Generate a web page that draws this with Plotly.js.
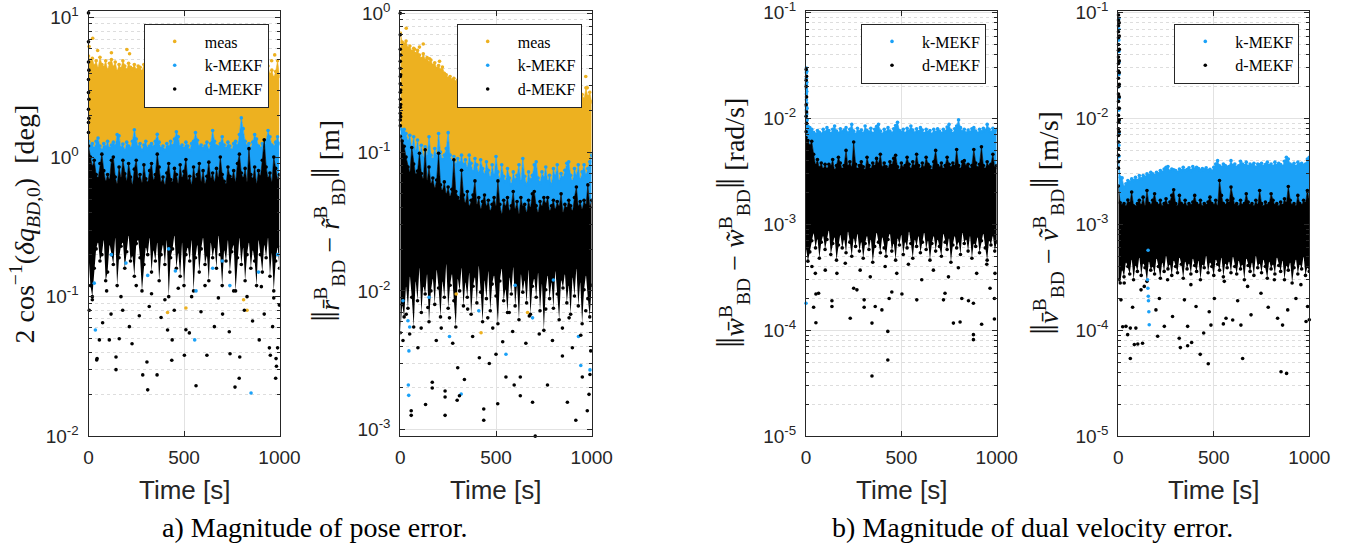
<!DOCTYPE html>
<html><head><meta charset="utf-8">
<script src="https://cdn.plot.ly/plotly-3.0.1.min.js"></script>
<style>html,body{margin:0;padding:0;background:#fff}#chart{width:1354px;height:549px}</style>
</head><body><div id="chart"></div>
<script>
// ---------- shared time grid [s] ----------
const T = [0,10,20,30,40,50,60,70,80,90,100,110,120,130,140,150,160,170,180,190,200,210,220,230,240,250,260,270,280,290,300,310,320,330,340,350,360,370,380,390,400,410,420,430,440,450,460,470,480,490,500,510,520,530,540,550,560,570,580,590,600,610,620,630,640,650,660,670,680,690,700,710,720,730,740,750,760,770,780,790,800,810,820,830,840,850,860,870,880,890,900,910,920,930,940,950,960,970,980,990,1000];

// ---------- panel a1: attitude error [deg] (dense band envelopes) ----------
const p1MeasTop = [5.3,4.8,5.1,4.5,4.9,4.3,5.2,4.6,4.4,4.9, 4.2,4.7,5.0,4.4,4.8,4.1,4.6,4.3,4.9,4.5, 4.2,4.7,4.4,4.3,4.6,4.2,4.5,4.4,4.1,4.6, 4.3,4.5,4.2,4.4,4.6,4.1,4.5,4.3,4.4,4.2, 4.6,4.3,4.1,4.5,4.4,4.2,4.6,4.3,4.5,4.1, 4.4,4.2,4.6,4.3,4.5,4.1,4.4,4.3,4.2,4.5, 4.3,4.1,4.4,4.6,4.2,4.5,4.3,4.1,4.4,4.2, 4.5,4.3,4.6,4.2,4.4,4.1,4.5,4.3,4.7,4.2, 4.4,4.6,4.3,4.5,4.1,4.4,4.2,4.6,4.3,4.5, 4.2,4.4,4.1,4.3,4.5,3.9,4.2,3.7,4.1,4.9, 3.8];
const p1KTop = [1.3,1.2,1.25,1.15,1.3,1.37,1.2,1.12,1.25,1.18, 1.3,1.15,1.22,1.28,1.2,1.45,1.42,1.16,1.24,1.12, 1.28,1.2,1.15,1.3,1.57,1.35,1.18,1.25,1.12,1.22, 1.3,1.15,1.2,1.25,1.18,1.3,1.46,1.28,1.15,1.2, 1.12,1.25,1.18,1.3,1.2,1.35,1.52,1.4,1.18,1.22, 1.15,1.28,1.2,1.12,1.25,1.3,1.5,1.32,1.18,1.22, 1.15,1.2,1.28,1.12,1.25,1.55,1.3,1.2,1.18,1.25, 1.4,1.22,1.15,1.28,1.2,1.12,1.25,1.3,1.2,1.45, 1.91,1.6,1.3,1.2,1.25,1.15,1.28,1.45,1.35,1.2, 1.15,1.25,1.2,1.3,1.55,1.4,1.22,1.18,1.28,1.4, 1.25];
const p1DTop = [1.2,1.0,0.85,0.95,0.75,0.7,0.9,1.05,0.8,0.66, 0.75,0.68,0.95,1.0,0.72,0.63,0.85,0.7,0.95,0.76, 0.66,0.9,0.72,0.62,0.82,0.95,0.69,0.75,0.64,0.88, 0.7,0.65,0.8,0.9,0.67,0.75,1.05,0.85,0.65,0.72, 0.62,0.77,0.9,0.69,0.65,0.83,0.75,0.63,0.88,0.7, 0.79,0.96,0.67,0.73,0.62,0.85,0.69,0.75,0.9,0.65, 0.8,0.63,0.73,0.92,0.69,0.77,0.65,0.83,0.7,1.0, 0.75,0.67,0.63,0.85,0.73,0.69,0.8,0.65,0.9,1.05, 0.77,0.7,0.83,0.65,1.15,0.75,0.69,0.85,0.63,0.8, 0.72,0.95,1.33,0.85,0.7,0.77,0.65,1.0,0.83,0.69, 0.75];
const p1DLow = [0.2,0.12,0.1,0.16,0.22,0.25,0.18,0.2,0.26,0.13, 0.15,0.24,0.2,0.17,0.27,0.12,0.19,0.23,0.25,0.16, 0.21,0.28,0.18,0.2,0.14,0.24,0.26,0.19,0.11,0.17, 0.23,0.2,0.27,0.15,0.22,0.18,0.25,0.13,0.2,0.24, 0.17,0.26,0.1,0.19,0.22,0.28,0.16,0.21,0.14,0.25, 0.12,0.2,0.23,0.18,0.26,0.11,0.19,0.24,0.15,0.22, 0.27,0.17,0.2,0.13,0.25,0.19,0.23,0.16,0.28,0.2, 0.12,0.22,0.18,0.26,0.15,0.21,0.24,0.11,0.19,0.27, 0.17,0.23,0.13,0.2,0.25,0.16,0.22,0.18,0.12,0.26, 0.2,0.15,0.24,0.19,0.27,0.14,0.21,0.11,0.18,0.23, 0.16];
// isolated points
const p1MeasT = [3,22,48,120,201,215,959,975,414,510,812,830];
const p1MeasV = [6.2,7.1,5.8,5.6,5.9,5.5,4.9,5.4,0.077,0.083,0.095,0.08];
const p1KT = [30,36,196,310,455,556,563,650,740,851,890,990,120,420,700];
const p1KV = [0.125,0.0577,0.174,0.142,0.153,0.049,0.11,0.16,0.12,0.0204,0.15,0.2,0.2,0.22,0.18];
const p1DT = [0,0,0,0,0,0,0,0, 2,2,2, 57,43,45,109,144,144,161,228,284,310,306,359,436,438,502,563,510,620,741,767,789,792,894,947,952,982,984,980,990, 4,74,118,179,214,266,318,380,414,449,528,589,659,702,737,816,859,920,964,999, 20,95,170,250,330,400,470,540,610,680,760,830,905,970];
const p1DV = [10.8,6.7,4.8,3.6,2.9,2.2,1.77,1.5, 4.2,2.6,1.9, 0.049,0.0352,0.036,0.049,0.037,0.03,0.05,0.046,0.0275,0.0215,0.034,0.0275,0.035,0.049,0.038,0.023,0.058,0.038,0.039,0.0225,0.026,0.037,0.049,0.043,0.038,0.036,0.0317,0.026,0.043, 0.08,0.065,0.075,0.08,0.061,0.073,0.085,0.071,0.0577,0.08,0.055,0.078,0.061,0.075,0.056,0.08,0.067,0.075,0.061,0.087, 0.095,0.11,0.1,0.12,0.105,0.095,0.115,0.1,0.12,0.098,0.11,0.1,0.118,0.098];

// ---------- panel a2: position error [m] ----------
const p2MeasTop = [0.72,0.62,0.6,0.63,0.56,0.58,0.53,0.56,0.51,0.54, 0.5,0.47,0.51,0.46,0.48,0.44,0.46,0.42,0.44,0.4, 0.42,0.39,0.41,0.37,0.36,0.34,0.35,0.33,0.34,0.32, 0.33,0.31,0.32,0.3,0.32,0.31,0.3,0.32,0.3,0.31, 0.3,0.29,0.31,0.3,0.29,0.3,0.28,0.3,0.29,0.28, 0.3,0.29,0.28,0.29,0.3,0.28,0.29,0.27,0.28,0.29, 0.28,0.27,0.29,0.28,0.27,0.28,0.29,0.27,0.28,0.27, 0.28,0.26,0.27,0.28,0.27,0.26,0.28,0.27,0.26,0.27, 0.28,0.26,0.27,0.26,0.28,0.27,0.26,0.27,0.25,0.27, 0.26,0.27,0.25,0.26,0.27,0.26,0.24,0.29,0.25,0.27, 0.23];
const p2KTop = [0.148,0.144,0.146,0.136,0.119,0.132,0.106,0.129,0.1,0.122, 0.095,0.112,0.09,0.109,0.093,0.129,0.095,0.088,0.106,0.093, 0.136,0.1,0.088,0.095,0.106,0.138,0.095,0.085,0.093,0.081, 0.09,0.083,0.095,0.081,0.088,0.076,0.095,0.083,0.072,0.09, 0.081,0.07,0.088,0.076,0.068,0.085,0.074,0.065,0.081,0.068, 0.093,0.072,0.063,0.081,0.067,0.061,0.076,0.065,0.058,0.072, 0.063,0.068,0.081,0.061,0.09,0.067,0.058,0.072,0.063,0.068, 0.081,0.085,0.065,0.06,0.072,0.065,0.078,0.061,0.068,0.058, 0.076,0.067,0.081,0.061,0.07,0.065,0.074,0.083,0.085,0.068, 0.061,0.076,0.067,0.081,0.063,0.072,0.081,0.068,0.076,0.085, 0.095];
const p2DTop = [0.13,0.12,0.11,0.092,0.078,0.07,0.108,0.082,0.068,0.073, 0.098,0.07,0.063,0.104,0.061,0.078,0.058,0.065,0.054,0.063, 0.098,0.058,0.052,0.061,0.049,0.056,0.047,0.054,0.088,0.052, 0.047,0.044,0.074,0.049,0.042,0.052,0.04,0.045,0.049,0.062, 0.041,0.047,0.038,0.044,0.049,0.04,0.045,0.037,0.042,0.047, 0.04,0.062,0.042,0.035,0.045,0.04,0.047,0.037,0.041,0.052, 0.038,0.044,0.035,0.047,0.04,0.042,0.036,0.045,0.039,0.05, 0.052,0.041,0.036,0.044,0.04,0.047,0.042,0.047,0.037,0.041, 0.045,0.038,0.044,0.04,0.05,0.036,0.042,0.039,0.045,0.041, 0.037,0.047,0.056,0.04,0.044,0.038,0.045,0.041,0.058,0.04, 0.045];
const p2DLow = [0.005,0.008,0.0065,0.011,0.0075,0.013,0.009,0.0055,0.012,0.0085, 0.015,0.007,0.011,0.0095,0.0135,0.006,0.01,0.0125,0.008,0.0145, 0.0105,0.0065,0.012,0.009,0.016,0.0075,0.011,0.0135,0.0085,0.0055, 0.0125,0.01,0.015,0.0078,0.0118,0.009,0.0138,0.0068,0.0108,0.0128, 0.0082,0.0155,0.0098,0.006,0.0122,0.0088,0.0142,0.0072,0.0112,0.0132, 0.0092,0.0058,0.0118,0.0148,0.0085,0.0105,0.007,0.0128,0.0095,0.0152, 0.0078,0.0112,0.0062,0.0135,0.0098,0.0122,0.0082,0.0145,0.0068,0.0108, 0.0125,0.009,0.0138,0.0072,0.0115,0.0052,0.0102,0.0132,0.0088,0.0118, 0.0075,0.0142,0.0095,0.0062,0.0122,0.0105,0.0135,0.0082,0.0112,0.0068, 0.0128,0.0092,0.0148,0.0078,0.0118,0.0058,0.0102,0.0132,0.0088,0.0065, 0.011];
const p2MeasT = [31,75,100,153,205,969,977,292,665,422,120];
const p2MeasV = [0.78,0.55,0.57,0.47,0.45,0.35,0.29,0.0095,0.007,0.005,0.6];
const p2KT = [40,45,42,44,49,257,318,410,552,691,931,943,991,14,150,600,800];
const p2KV = [0.0061,0.0037,0.0021,0.00177,0.0055,0.0047,0.00181,0.0072,0.0035,0.0064,0.0047,0.0029,0.0027,0.0085,0.009,0.011,0.012];
const p2DT = [0,0,0,0,0,0,0,0,0,0,0,0,0, 2,2,2,2,2, 57,57,132,167,167,234,234,234,297,309,300,335,436,436,465,500,509,552,595,627,627,691,705,769,847,873,917,951,977,986,991, 14,49,92,109,188,214,274,378,413,483,535,587,656,726,795,847,899,943,995, 31,144,257,352,457,569,674,760,882,969];
const p2DV = [1.0,0.7,0.55,0.45,0.4,0.35,0.31,0.27,0.24,0.21,0.19,0.17,0.155, 0.5,0.36,0.28,0.22,0.18, 0.00127,0.00137,0.00152,0.0022,0.002,0.00127,0.00172,0.0019,0.00163,0.00176,0.0028,0.0023,0.00117,0.00141,0.003,0.0035,0.00154,0.0024,0.0021,0.00176,0.0024,0.00158,0.0009,0.0021,0.0034,0.00158,0.00117,0.0024,0.00137,0.0018,0.0025, 0.0044,0.0049,0.0039,0.0054,0.0044,0.0054,0.0042,0.0047,0.0033,0.0054,0.0043,0.0051,0.0042,0.0049,0.0044,0.0054,0.0039,0.0048,0.0037, 0.0068,0.0076,0.0064,0.0074,0.0064,0.007,0.0066,0.0074,0.0064,0.0072];

// ---------- panel b1: angular velocity error [rad/s] ----------
const p3KTop = [0.0095,0.0085,0.0082,0.0079,0.0074,0.0071,0.0077,0.0074,0.0071,0.0079, 0.0074,0.0082,0.0077,0.0072,0.0079,0.0085,0.0076,0.0072,0.008,0.0075, 0.0078,0.0082,0.0073,0.0079,0.0088,0.0076,0.0071,0.0081,0.0075,0.0078, 0.0072,0.0085,0.0077,0.0074,0.0081,0.0072,0.0079,0.0084,0.0088,0.0076, 0.0071,0.0079,0.0074,0.0082,0.0076,0.0072,0.008,0.0086,0.0092,0.0077, 0.0074,0.0079,0.0072,0.0081,0.0076,0.0085,0.0078,0.0073,0.008,0.0075, 0.0082,0.0078,0.0072,0.0079,0.0074,0.0077,0.0071,0.0079,0.0074,0.008, 0.0076,0.0072,0.0079,0.0075,0.0083,0.0088,0.0077,0.0072,0.008,0.0085, 0.0097,0.0082,0.0075,0.0079,0.0073,0.0078,0.0074,0.008,0.0082,0.0076, 0.0072,0.0079,0.0075,0.0081,0.0077,0.0088,0.0079,0.0074,0.0081,0.0076, 0.0079];
const p3DTop = [0.0066,0.0062,0.0055,0.0061,0.0046,0.0036,0.0041,0.0034,0.0038,0.0033, 0.0037,0.0033,0.0037,0.0035,0.0041,0.0032,0.0036,0.0043,0.0038,0.0033, 0.0036,0.005,0.0035,0.0039,0.0034,0.006,0.0037,0.0033,0.0036,0.0039, 0.0035,0.0032,0.0043,0.0036,0.0033,0.0038,0.0035,0.0042,0.0037,0.0046, 0.0034,0.0038,0.0035,0.0033,0.0039,0.0036,0.0042,0.0045,0.0035,0.0032, 0.0038,0.0034,0.0036,0.0043,0.0037,0.0033,0.0039,0.0035,0.0046,0.0036, 0.0033,0.0038,0.0034,0.0043,0.0037,0.0035,0.0032,0.0039,0.005,0.0036, 0.0034,0.0038,0.0033,0.0036,0.0043,0.0037,0.0034,0.0038,0.0035,0.0051, 0.0036,0.0033,0.0039,0.004,0.0035,0.0037,0.0033,0.0036,0.0051,0.0038, 0.0034,0.0037,0.0054,0.0036,0.0033,0.0039,0.0035,0.0037,0.0046,0.0034, 0.0036];
const p3DLow = [0.0006,0.00045,0.00055,0.0007,0.00085,0.0006,0.00075,0.00048,0.00068,0.0008, 0.00058,0.00072,0.0009,0.00052,0.00066,0.00078,0.00046,0.00064,0.00082,0.0006, 0.00074,0.00054,0.00088,0.00068,0.0005,0.00076,0.00062,0.00084,0.00056,0.0007, 0.00048,0.00066,0.0008,0.00058,0.00074,0.00044,0.00062,0.00086,0.00068,0.00054, 0.00078,0.0006,0.0005,0.00072,0.00084,0.00056,0.00068,0.00046,0.00076,0.00064, 0.00082,0.00052,0.0007,0.0006,0.00088,0.00066,0.00048,0.00074,0.00062,0.0008, 0.00054,0.00068,0.00086,0.00058,0.00072,0.00046,0.00066,0.0008,0.00056,0.00074, 0.00062,0.0005,0.00084,0.00068,0.00058,0.00076,0.00044,0.00064,0.0008,0.0006, 0.0007,0.00052,0.00086,0.00066,0.00074,0.00056,0.0008,0.00048,0.00068,0.00062, 0.00078,0.00054,0.0007,0.00084,0.0006,0.00046,0.00072,0.00064,0.0008,0.00056, 0.00068];
const p3KT = [2,2,2,2,2,2,2,2,2,2, 4,4,4,4,4,4, 6,6, 0];
const p3KV = [0.03,0.027,0.024,0.021,0.019,0.017,0.015,0.013,0.012,0.0105, 0.028,0.022,0.018,0.014,0.011,0.0095, 0.0125,0.0098, 0.00018];
const p3DT = [3,3,3,3,1,1,1,1,1,1, 49,40,52,52,66,136,136,232,250,267,305,305,346,346,363,398,429,429,436,450,503,581,607,721,729,773,808,817,852,878,878,878,921,965,988,988, 31,101,162,206,284,337,415,476,537,668,747,799,895,948,991];
const p3DV = [0.025,0.016,0.0115,0.009,0.02,0.0075,0.029,0.023,0.0135,0.0105, 0.000345,0.000165,0.000118,0.00022,0.000224,0.00019,0.000168,0.00013,0.00025,0.000241,0.000165,0.000194,0.000117,0.000037,0.000168,0.000156,0.0000977,0.0000525,0.0002,0.00023,0.00022,0.000194,0.0003,0.000194,0.000224,0.000117,0.00012,0.0002,0.00019,0.000091,0.0000817,0.00018,0.000114,0.00025,0.000128,0.0002, 0.0004,0.00037,0.000345,0.00043,0.00037,0.00032,0.0004,0.000345,0.00042,0.00037,0.00032,0.00039,0.000345,0.00042,0.000345];

// ---------- panel b2: linear velocity error [m/s] ----------
const p4KTop = [0.0045,0.00279,0.00275,0.00225,0.00242,0.0026,0.00251,0.00269,0.0026,0.00279, 0.0026,0.0029,0.00269,0.0029,0.00279,0.003,0.0029,0.00311,0.003,0.0029, 0.00311,0.003,0.00323,0.00311,0.00334,0.00347,0.00352,0.00318,0.00334,0.00327, 0.00323,0.00311,0.00334,0.00323,0.00347,0.00323,0.0033,0.00342,0.00323,0.00352, 0.00334,0.00347,0.00337,0.00323,0.00337,0.00327,0.00342,0.00323,0.00332,0.00318, 0.00347,0.00372,0.004,0.00357,0.00347,0.00372,0.0036,0.00347,0.00352,0.004, 0.0036,0.00372,0.00347,0.00357,0.00395,0.00372,0.0036,0.00387,0.00352,0.00372, 0.0036,0.00378,0.00347,0.00372,0.00365,0.00378,0.00352,0.00367,0.00387,0.0036, 0.00372,0.00352,0.00387,0.0036,0.00378,0.00367,0.00352,0.00395,0.0043,0.00415, 0.00372,0.0036,0.00378,0.00352,0.00387,0.00367,0.00378,0.0036,0.00372,0.00415, 0.0043];
const p4DTop = [0.0023,0.0016,0.0015,0.00157,0.00146,0.0017,0.00157,0.00202,0.0015,0.00146, 0.00157,0.00169,0.0015,0.00181,0.00146,0.00209,0.00157,0.0015,0.00169,0.00195, 0.00157,0.0015,0.00169,0.00146,0.00157,0.00175,0.0015,0.00163,0.00188,0.00212, 0.00157,0.00146,0.00188,0.00157,0.0015,0.00169,0.00146,0.00157,0.0015,0.00163, 0.00188,0.00157,0.0015,0.00169,0.00146,0.00157,0.0015,0.00163,0.00181,0.00157, 0.0015,0.00169,0.00146,0.0026,0.00188,0.00157,0.0015,0.00169,0.00157,0.00225, 0.00175,0.0015,0.00157,0.00146,0.00169,0.0015,0.00157,0.00195,0.00163,0.0015, 0.00157,0.00146,0.00169,0.0015,0.00209,0.00157,0.00146,0.00163,0.0015,0.00157, 0.00195,0.00169,0.0015,0.00157,0.00146,0.00163,0.0015,0.00175,0.00157,0.00228, 0.00169,0.0015,0.00157,0.00146,0.00188,0.00157,0.0015,0.00169,0.00157,0.00209, 0.00169];
const p4DLow = [0.0003,0.00028,0.00038,0.00032,0.00045,0.0004,0.00034,0.00048,0.0003,0.00042, 0.00036,0.0005,0.00033,0.00044,0.00039,0.00029,0.00046,0.00037,0.00041,0.00034, 0.00049,0.0004,0.00031,0.00045,0.00036,0.00052,0.00038,0.00043,0.00033,0.00047, 0.0004,0.00035,0.0005,0.00042,0.00031,0.00046,0.00038,0.00044,0.00034,0.00049, 0.00041,0.00036,0.00047,0.0003,0.00043,0.00039,0.00052,0.00035,0.00045,0.0004, 0.00033,0.00048,0.00042,0.00037,0.0005,0.00032,0.00044,0.00039,0.00046,0.00035, 0.00051,0.0004,0.00034,0.00047,0.00038,0.00043,0.0003,0.00049,0.00041,0.00036, 0.00045,0.00033,0.00052,0.00039,0.00044,0.00035,0.00048,0.0004,0.00031,0.00046, 0.00038,0.00043,0.00034,0.0005,0.00041,0.00036,0.00047,0.0003,0.00042,0.00037, 0.00045,0.00028,0.00039,0.00048,0.00034,0.00043,0.00038,0.00051,0.00033,0.0004, 0.00036];
const p4KT = [3,3,3,3,3,3,3,3,3,3,3,3,3, 153,155,157,158,160,162,156];
const p4KV = [0.088,0.07,0.055,0.043,0.034,0.026,0.02,0.0155,0.012,0.0093,0.0072,0.0056,0.0044, 0.0003,0.00025,0.00021,0.00019,0.00015,0.000113,0.00057];
const p4DT = [1,1,1,1,1,1,1,1,1,1,1,1, 1,1,1,1,1,1,1,1,1,1,1,1, 5,5,5,5,5,5,5,5,5,5, 40,23,63,49,92,84,102,127,63,206,241,319,325,363,384,429,447,471,363,485,550,599,642,651,852,881,860,983, 14,75,119,197,215,284,346,407,476,503,564,625,695,747,785,834,887,930,991,1000, 31,136,258,380,555,677,817,956];
const p4DV = [0.095,0.085,0.075,0.066,0.058,0.05,0.044,0.038,0.033,0.028,0.024,0.02, 0.017,0.0145,0.0125,0.0107,0.0092,0.008,0.0069,0.006,0.0052,0.0045,0.0039,0.0034, 0.08,0.06,0.045,0.035,0.027,0.021,0.016,0.0125,0.0097,0.0075, 0.000109,0.000108,0.000105,0.000091,0.000105,0.0000733,0.0000744,0.0000755,0.0000542,0.000088,0.000109,0.0000843,0.0000687,0.0000716,0.0000767,0.0000593,0.0000945,0.0000483,0.000109,0.000112,0.000115,0.000125,0.000112,0.0000542,0.0000406,0.0000392,0.000112,0.000121, 0.000194,0.000165,0.000241,0.000156,0.0002,0.000135,0.000194,0.000168,0.00015,0.0002,0.00013,0.00019,0.00014,0.000224,0.000165,0.00013,0.000156,0.0002,0.000168,0.000126, 0.00028,0.00026,0.0003,0.00027,0.00029,0.00026,0.0003,0.00027];

// ---------- labels ----------
const seriesNames = ['meas','k-MEKF','d-MEKF'];
const xTickVals = [0,500,1000];
const xTickText = ['0','500','1000'];

// ---------- styling ----------
const ORANGE = '#EDB120', BLUE = '#1BA1F7', BLACK = '#000000', AXC = '#262626';
const MS = 3.6;
const W = 1354, H = 549;
const px = v => v / W, py = v => 1 - v / H;

const traces = [];
function base(xa, ya, y, mColor) {
  traces.push({type:'scatter', x:T, y:y, xaxis:xa, yaxis:ya,
    mode: mColor ? 'lines+markers' : 'lines',
    line:{width:0.5, color:'rgba(0,0,0,0)'}, marker:{size:MS, color:mColor || 'rgba(0,0,0,0)'},
    showlegend:false, hoverinfo:'skip'});
}
function band(xa, ya, y, color) {
  traces.push({type:'scatter', x:T, y:y, xaxis:xa, yaxis:ya, mode:'lines+markers',
    fill:'tonexty', fillcolor:color, line:{width:0.6, color:color}, marker:{size:MS, color:color},
    showlegend:false, hoverinfo:'skip'});
}
function dots(xa, ya, t, v, color, name, lg) {
  traces.push({type:'scatter', x:t, y:v, xaxis:xa, yaxis:ya, mode:'markers', cliponaxis:false,
    marker:{size:MS, color:color}, name:name, legend:lg, showlegend:true});
}

// panel 1
base('x','y',p1KTop); band('x','y',p1MeasTop,ORANGE);
base('x','y',p1DTop); band('x','y',p1KTop,BLUE);
base('x','y',p1DLow,BLACK); band('x','y',p1DTop,BLACK);
dots('x','y',p1MeasT,p1MeasV,ORANGE,seriesNames[0],'legend');
dots('x','y',p1KT,p1KV,BLUE,seriesNames[1],'legend');
dots('x','y',p1DT,p1DV,BLACK,seriesNames[2],'legend');
// panel 2
base('x2','y2',p2KTop); band('x2','y2',p2MeasTop,ORANGE);
base('x2','y2',p2DTop); band('x2','y2',p2KTop,BLUE);
base('x2','y2',p2DLow,BLACK); band('x2','y2',p2DTop,BLACK);
dots('x2','y2',p2MeasT,p2MeasV,ORANGE,seriesNames[0],'legend2');
dots('x2','y2',p2KT,p2KV,BLUE,seriesNames[1],'legend2');
dots('x2','y2',p2DT,p2DV,BLACK,seriesNames[2],'legend2');
// panel 3
base('x3','y3',p3DTop); band('x3','y3',p3KTop,BLUE);
base('x3','y3',p3DLow,BLACK); band('x3','y3',p3DTop,BLACK);
dots('x3','y3',p3KT,p3KV,BLUE,seriesNames[1],'legend3');
dots('x3','y3',p3DT,p3DV,BLACK,seriesNames[2],'legend3');
// panel 4
base('x4','y4',p4DTop); band('x4','y4',p4KTop,BLUE);
base('x4','y4',p4DLow,BLACK); band('x4','y4',p4DTop,BLACK);
dots('x4','y4',p4KT,p4KV,BLUE,seriesNames[1],'legend4');
dots('x4','y4',p4DT,p4DV,BLACK,seriesNames[2],'legend4');

const yDom = [py(436.3), py(11)];
const tickFont = {family:'Liberation Sans, Arial, sans-serif', size:19, color:AXC};
function xAxis(l, r, anchor) {
  return {domain:[px(l), px(r)], anchor:anchor, range:[0,1000], tickmode:'array', tickvals:xTickVals, ticktext:xTickText,
    ticks:'inside', ticklen:5, tickwidth:1, tickcolor:AXC, showline:true, linecolor:AXC, linewidth:1, mirror:'ticks',
    showgrid:true, gridcolor:'#e2e2e2', gridwidth:1, zeroline:false, tickfont:tickFont, ticklabelstandoff:4, fixedrange:true};
}
function expLabel(e) { return '10<sup>' + e + '</sup>'; }
function yAxis(anchor, range, exps) {
  return {domain:yDom, anchor:anchor, type:'log', range:range, tickmode:'array',
    tickvals: exps.map(e => Math.pow(10, e)), ticktext: exps.map(expLabel),
    ticks:'inside', ticklen:5, tickwidth:1, tickcolor:AXC, showline:true, linecolor:AXC, linewidth:1, mirror:'ticks',
    showgrid:true, gridcolor:'#e2e2e2', gridwidth:1, zeroline:false, tickfont:tickFont, ticklabelstandoff:5, fixedrange:true,
    ticklabeloverflow:'allow',
    minor:{dtick:'D1', ticks:'inside', ticklen:3, tickcolor:AXC, showgrid:true, gridcolor:'#dddddd', griddash:'dot', gridwidth:1}};
}
function legendAt(right) {
  return {x:px(right), y:py(23.5), xref:'paper', yref:'paper', xanchor:'right', yanchor:'top', traceorder:'normal',
    bgcolor:'#ffffff', bordercolor:AXC, borderwidth:1, itemwidth:50, tracegroupgap:0,
    font:{family:'Liberation Serif, Times New Roman, serif', size:16, color:'#000'}, itemclick:false, itemdoubleclick:false};
}

const serif = 'Liberation Serif, Times New Roman, serif';
const bigBar = "<span style='font-size:40px'>‖</span>";
function ann(x, y, text, size, family, angle, color) {
  return {xref:'paper', yref:'paper', x:px(x), y:py(y), text:text, showarrow:false, xanchor:'center', yanchor:'middle',
    textangle:angle || 0, font:{family:family, size:size, color:color || AXC}};
}
const annotations = [
  ann(25, 224.5, '2 cos<sup>−1</sup>(<i>δq</i><sub><i>BD</i>,0</sub>)  [deg]', 28, serif, -90, '#111'),
  ann(326, 221, bigBar + '<i>r̄</i><sup>B</sup><sub>BD</sub> − <i>r̃</i><sup>B</sup><sub>BD</sub>' + bigBar + ' [m]', 28, serif, -90, '#111'),
  ann(731, 223, bigBar + '<i>w̄</i><sup>B</sup><sub>BD</sub> − <i>w̃</i><sup>B</sup><sub>BD</sub>' + bigBar + ' [rad/s]', 28, serif, -90, '#111'),
  ann(1045, 223, bigBar + '<i>v̄</i><sup>B</sup><sub>BD</sub> − <i>ṽ</i><sup>B</sup><sub>BD</sub>' + bigBar + ' [m/s]', 28, serif, -90, '#111'),
  ann(184, 490, 'Time [s]', 26, 'Liberation Sans, Arial, sans-serif'),
  ann(496, 490, 'Time [s]', 26, 'Liberation Sans, Arial, sans-serif'),
  ann(901.3, 490, 'Time [s]', 26, 'Liberation Sans, Arial, sans-serif'),
  ann(1213.8, 490, 'Time [s]', 26, 'Liberation Sans, Arial, sans-serif'),
  ann(314.5, 527, 'a) Magnitude of pose error.', 28, serif, 0, '#000'),
  ann(1032.5, 527, 'b) Magnitude of dual velocity error.', 28, serif, 0, '#000')
];

const layout = {
  width:W, height:H, margin:{l:0, r:0, t:0, b:0}, paper_bgcolor:'#fff', plot_bgcolor:'#fff',
  showlegend:true,
  xaxis: xAxis(88.5, 279.5, 'y'), yaxis: yAxis('x', [-2.0005, 1.047], [-2,-1,0,1]),
  xaxis2: xAxis(400.3, 591.7, 'y2'), yaxis2: yAxis('x2', [-3.047, 0.016], [-3,-2,-1,0]),
  xaxis3: xAxis(806, 996.7, 'y3'), yaxis3: yAxis('x3', [-5.0005, -0.985], [-5,-4,-3,-2,-1]),
  xaxis4: xAxis(1118.3, 1309.3, 'y4'), yaxis4: yAxis('x4', [-5.0005, -0.985], [-5,-4,-3,-2,-1]),
  legend: legendAt(268.7), legend2: legendAt(581.7), legend3: legendAt(986), legend4: legendAt(1299.3),
  annotations: annotations
};
Plotly.newPlot('chart', traces, layout, {staticPlot:true, displayModeBar:false});
</script></body></html>
